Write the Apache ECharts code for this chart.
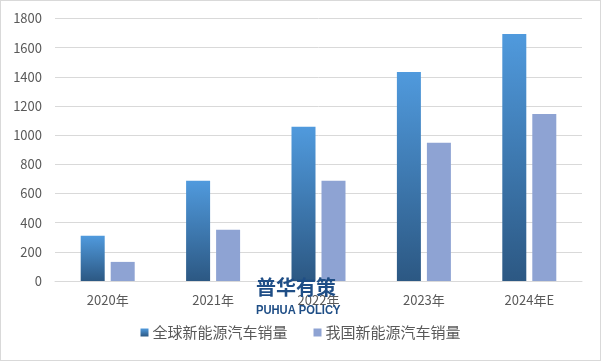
<!DOCTYPE html>
<html><head><meta charset="utf-8">
<script src="https://cdn.jsdelivr.net/npm/echarts@6/dist/echarts.min.js"></script>
<style>html,body{margin:0;padding:0;background:#fff}#c{width:601px;height:361px;box-sizing:border-box;border:1px solid #d9d9d9}</style>
</head><body><div id="c"></div>
<script>
var categories = ['2020年','2021年','2022年','2023年','2024年E'];
var globalSales = [310, 687, 1057, 1434, 1694];
var chinaSales = [131, 351, 687, 948, 1146];
var seriesNames = ['全球新能源汽车销量','我国新能源汽车销量'];

var chart = echarts.init(document.getElementById('c'), null, {renderer:'canvas'});
var font = '"Microsoft YaHei","Noto Sans CJK SC",sans-serif';
chart.setOption({
  animation:false,
  textStyle:{fontFamily:font},
  grid:{left:54,right:18,top:17.5,bottom:79,containLabel:false},
  legend:{bottom:15,left:'center',itemWidth:8,itemHeight:8,itemGap:26,icon:'rect',
    textStyle:{color:'#595959',fontSize:15,fontFamily:font,padding:[0,0,0,-1]},data:seriesNames},
  xAxis:{type:'category',data:categories,
    axisLine:{lineStyle:{color:'#d9d9d9'}},axisTick:{show:false},
    axisLabel:{color:'#595959',fontSize:13,margin:13,fontFamily:font}},
  yAxis:{type:'value',min:0,max:1800,interval:200,
    axisLine:{show:false},axisTick:{show:false},
    splitLine:{lineStyle:{color:'#d9d9d9'}},
    axisLabel:{color:'#595959',fontSize:13,margin:13,fontFamily:font,formatter:function(v){return String(v);}}},
  graphic:[
    {type:'text',left:255,top:276,z:10,style:{text:'普华有策',fill:'#1F4E86',font:'bold 20px "Noto Sans CJK SC"'}},
    {type:'text',x:255,y:303,scaleX:0.86,z:10,style:{text:'PUHUA POLICY',fill:'#1F4E86',font:'bold 13px "Liberation Sans", sans-serif'}}
  ],
  series:[
    {name:seriesNames[0],type:'bar',data:globalSales,barWidth:24,barGap:'25%',
     itemStyle:{color:new echarts.graphic.LinearGradient(0,0,0,1,[{offset:0,color:'#509ADD'},{offset:1,color:'#2C5883'}])}},
    {name:seriesNames[1],type:'bar',data:chinaSales,barWidth:24,
     itemStyle:{color:'#8EA3D3'}}
  ]
});
</script></body></html>
